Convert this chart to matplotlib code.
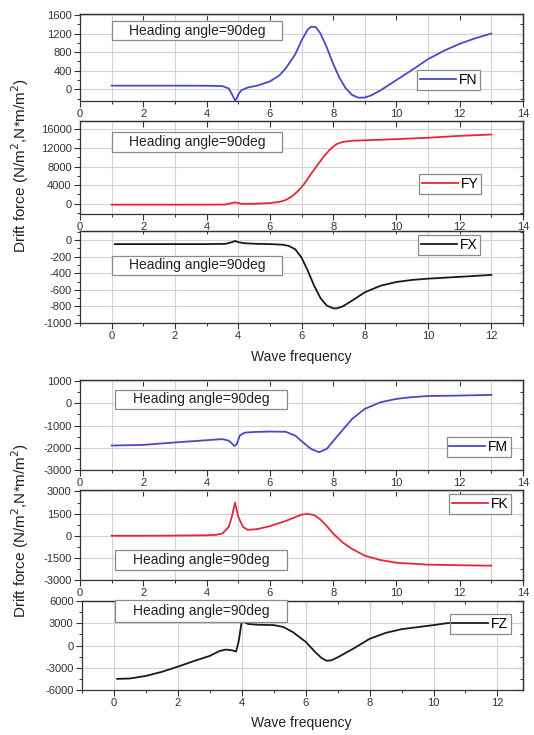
import matplotlib
matplotlib.use("Agg")
import matplotlib.pyplot as plt
from matplotlib.patches import Rectangle
from matplotlib.ticker import MultipleLocator

plt.rcParams['font.family'] = ['Liberation Sans', 'DejaVu Sans']
plt.rcParams['axes.unicode_minus'] = False

# wave frequency / drift force readings
fn_x = [1, 2, 3, 4, 4.5, 4.7, 4.8, 4.9, 4.95, 5.0, 5.1, 5.3, 5.6, 6.0, 6.3, 6.5, 6.8, 7.0, 7.2, 7.3,
        7.45, 7.6, 7.8, 8.0, 8.2, 8.4, 8.6, 8.8, 9.0, 9.2, 9.5, 10.0, 10.5, 11.0, 11.5, 12.0, 12.5, 13.0]
fn_y = [80, 80, 80, 78, 70, 20, -100, -240, -200, -110, -20, 40, 80, 170, 300, 450, 750, 1050, 1290, 1345,
        1340, 1200, 900, 550, 250, 20, -120, -180, -175, -130, -20, 200, 420, 650, 830, 980, 1100, 1200]

fy_x = [1, 2, 3, 4, 4.6, 4.9, 5.1, 5.5, 6.0, 6.3, 6.5, 6.7, 6.9, 7.1, 7.3, 7.5, 7.7, 7.9, 8.1, 8.3,
        8.6, 9.0, 10, 11, 12, 13]
fy_y = [-200, -200, -200, -200, -150, 300, 0, 0, 150, 400, 800, 1600, 2800, 4400, 6400, 8300, 10100,
        11700, 12800, 13300, 13550, 13650, 13900, 14200, 14600, 14900]

fx_x = [0.1, 1, 2, 3, 3.6, 3.8, 3.9, 4.0, 4.2, 4.6, 5.0, 5.4, 5.6, 5.8, 6.0, 6.2, 6.4, 6.6, 6.8, 7.0,
        7.1, 7.3, 7.6, 8.0, 8.5, 9.0, 9.5, 10, 11, 12]
fx_y = [-48, -48, -48, -48, -45, -25, -10, -25, -38, -45, -48, -55, -70, -110, -210, -370, -550, -700,
        -790, -822, -825, -800, -730, -630, -550, -505, -480, -465, -443, -420]

fm_x = [1, 2, 3, 4, 4.5, 4.7, 4.8, 4.88, 4.95, 5.05, 5.2, 5.5, 6.0, 6.5, 6.8, 7.0, 7.3, 7.55, 7.8, 8.0,
        8.3, 8.6, 9.0, 9.5, 10, 10.5, 11, 12, 13]
fm_y = [-1900, -1870, -1760, -1660, -1610, -1680, -1800, -1920, -1850, -1450, -1320, -1290, -1270,
        -1280, -1450, -1700, -2050, -2200, -2050, -1700, -1200, -700, -250, 50, 200, 280, 330, 350, 380]

fk_x = [1, 2, 3, 4, 4.3, 4.5, 4.7, 4.8, 4.9, 5.0, 5.15, 5.3, 5.6, 6.0, 6.5, 7.0, 7.2, 7.4, 7.6, 7.8,
        8.0, 8.3, 8.6, 9.0, 9.5, 10, 11, 12, 13]
fk_y = [0, 0, 10, 30, 60, 150, 600, 1300, 2250, 1300, 600, 400, 450, 650, 1000, 1430, 1480, 1400,
        1100, 650, 150, -450, -900, -1350, -1650, -1830, -1960, -2000, -2030]

fz_x = [0.1, 0.5, 1.0, 1.5, 2.0, 2.5, 3.0, 3.3, 3.5, 3.7, 3.82, 3.9, 4.0, 4.2, 4.5, 5.0, 5.3, 5.6,
        6.0, 6.3, 6.5, 6.65, 6.8, 7.0, 7.5, 8.0, 8.5, 9.0, 10, 10.4, 11, 12]
fz_y = [-4500, -4450, -4100, -3550, -2850, -2100, -1400, -750, -550, -650, -820, 500, 3300, 2900,
        2800, 2750, 2500, 1800, 500, -900, -1700, -2050, -2000, -1600, -400, 900, 1700, 2200, 2750,
        3000, 3150, 3300]

heading = "Heading angle=90deg"
ylabel = "Drift force (N/m$^2$,N*m/m$^2$)"

W, H = 534, 735
fig = plt.figure(figsize=(W / 100, H / 100), dpi=100)

blue = "#4a4ac4"
red = "#e2283c"
black = "#1a1a1a"
grid_c = "#d4d4d4"
axis_c = "#333333"

# name, x, y, color, pixel box (left, top, right, bottom), xlim, ylim, ymajor, grid on odd x,
# heading box, legend corner
panels = [
    ("FN", fn_x, fn_y, blue, (80, 14, 523, 101), (0, 14), (-250, 1620), 400, True,
     (112, 21, 282, 40), (480, 70)),
    ("FY", fy_x, fy_y, red, (80, 121, 523, 214), (0, 14), (-2200, 17800), 4000, True,
     (112, 132, 282, 152), (481, 174)),
    ("FX", fx_x, fx_y, black, (80, 231, 523, 323), (-1, 13), (-1000, 110), 200, False,
     (112, 256, 282, 275), (480, 235)),
    ("FM", fm_x, fm_y, blue, (80, 380, 523, 470), (0, 14), (-3000, 1050), 1000, True,
     (115, 390, 287, 409), (511, 437)),
    ("FK", fk_x, fk_y, red, (80, 490, 523, 580), (0, 14), (-3000, 3100), 1500, True,
     (115, 550, 287, 570), (511, 494)),
    ("FZ", fz_x, fz_y, black, (82, 601, 523, 690), (-1, 12.8), (-6000, 6000), 3000, False,
     (115, 600, 287, 622), (511, 614)),
]

for name, xs, ys, col, box, xl, yl, ymaj, odd_grid, hbox, lcorner in panels:
    l, t, r, b = box
    ax = fig.add_axes([l / W, 1 - b / H, (r - l) / W, (b - t) / H])
    ax.plot(xs, ys, color=col, lw=1.3, label=name, clip_on=False, zorder=3)
    ax.set_xlim(*xl)
    ax.set_ylim(*yl)
    ax.xaxis.set_major_locator(MultipleLocator(2))
    ax.xaxis.set_minor_locator(MultipleLocator(1))
    ax.yaxis.set_major_locator(MultipleLocator(ymaj))
    ax.yaxis.set_minor_locator(MultipleLocator(ymaj / 2))
    ax.grid(axis='y', which='major', color=grid_c, lw=0.8)
    if odd_grid:
        ax.grid(axis='x', which='minor', color=grid_c, lw=0.8)
    else:
        ax.grid(axis='x', which='major', color=grid_c, lw=0.8)
    ax.set_axisbelow(True)
    ax.tick_params(which='both', direction='out', labelsize=8, colors=axis_c, pad=1.5)
    ax.tick_params(which='major', length=4.5, width=0.8)
    ax.tick_params(which='minor', length=2.5, width=0.7)
    for sp in ax.spines.values():
        sp.set_color(axis_c)
        sp.set_linewidth(0.9)

    # inward ticks on the top and right sides
    top = ax.secondary_xaxis('top')
    top.xaxis.set_major_locator(MultipleLocator(2))
    top.xaxis.set_minor_locator(MultipleLocator(1))
    top.tick_params(which='both', direction='in', labeltop=False, colors=axis_c)
    top.tick_params(which='major', length=4.5, width=0.8)
    top.tick_params(which='minor', length=2.5, width=0.7)
    right = ax.secondary_yaxis('right')
    right.yaxis.set_major_locator(MultipleLocator(ymaj))
    right.yaxis.set_minor_locator(MultipleLocator(ymaj / 2))
    right.tick_params(which='both', direction='in', labelright=False, colors=axis_c)
    right.tick_params(which='major', length=4.5, width=0.8)
    right.tick_params(which='minor', length=2.5, width=0.7)
    for sec in (top, right):
        for sp in sec.spines.values():
            sp.set_color(axis_c)
            sp.set_linewidth(0.9)

    # heading box
    x0, y0, x1, y1 = hbox
    fig.add_artist(Rectangle((x0 / W, 1 - y1 / H), (x1 - x0) / W, (y1 - y0) / H,
                             transform=fig.transFigure, facecolor='white',
                             edgecolor='#8a8a8a', lw=0.9, zorder=5))
    fig.text((x0 + x1) / 2 / W, 1 - (y0 + y1) / 2 / H, heading, ha='center', va='center',
             fontsize=10, color='#222222', zorder=6)

    leg = ax.legend(loc='upper right', bbox_to_anchor=(lcorner[0] / W, 1 - lcorner[1] / H),
                    bbox_transform=fig.transFigure, borderaxespad=0, fontsize=10,
                    frameon=True, fancybox=False, framealpha=1, edgecolor='#8a8a8a',
                    borderpad=0.2, handlelength=2.6, handletextpad=0.2)
    leg.get_frame().set_linewidth(0.9)
    leg.set_zorder(10)

fig.text(20 / W, 1 - 165 / H, ylabel, rotation=90, ha='center', va='center', fontsize=11,
         color='#222222')
fig.text(20 / W, 1 - 530 / H, ylabel, rotation=90, ha='center', va='center', fontsize=11,
         color='#222222')
fig.text(301 / W, 1 - 357 / H, "Wave frequency", ha='center', va='center', fontsize=10,
         color='#222222')
fig.text(301 / W, 1 - 723 / H, "Wave frequency", ha='center', va='center', fontsize=10,
         color='#222222')

fig.savefig("out.png", dpi=100, facecolor='white')
